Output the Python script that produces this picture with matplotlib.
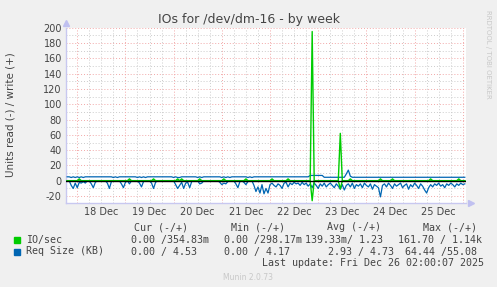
import matplotlib
matplotlib.use("Agg")
import matplotlib.pyplot as plt
from matplotlib.patches import Rectangle
import numpy as np

# =====================================================
# data (hourly samples, hour 0 = 18 Dec 00:00)
# =====================================================
first_hour = -5

# Req Size (KB), read side (drawn negative)
req_read = [
    0, 0, 6, 10, 3, 9, 2, 3, 1, 3,
    0, 0, 4, 9, 2, 0, 0, 0, 0, 0,
    3, 10, 1, 0, 0, 0, 0, 4, 9, 2,
    0, 4, 0, 0, 0, 0, 3, 8, 1, 0,
    0, 0, 3, 10, 2, 0, 0, 0, 0, 0,
    0, 0, 0, 0, 5, 10, 6, 2, 10, 3,
    2, 9, 1, 0, 0, 0, 4, 3, 0, 0,
    0, 0, 0, 0, 0, 0, 2, 5, 3, 4,
    1, 0, 0, 0, 4, 9, 1, 0, 2, 5,
    1, 0, 0, 6, 14, 8, 16, 5, 17, 10,
    16, 5, 3, 6, 8, 4, 6, 10, 3, 2,
    8, 3, 5, 2, 4, 3, 6, 2, 5, 3,
    7, 4, 9, 3, 6, 10, 4, 7, 3, 8,
    5, 3, 6, 9, 4, 7, 11, 5, 12, 6,
    4, 8, 3, 10, 5, 7, 4, 9, 3, 6,
    8, 4, 11, 5, 7, 9, 21, 6, 4, 8,
    3, 6, 10, 4, 7, 5, 3, 9, 6, 4,
    11, 5, 8, 3, 6, 10, 4, 7, 12, 16,
    9, 5, 8, 4, 6, 3, 7, 5, 9, 4,
    6, 3, 5, 8, 4, 6, 3, 5, 4,
]

# Req Size (KB), write side
req_write = [
    5.2, 5.2, 4.3, 5.2, 4.3, 5.2, 4.3, 5.2, 4.3, 5.2,
    5.2, 5.2, 5.2, 5.2, 5.2, 5.2, 5.2, 5.2, 5.2, 5.2,
    5.2, 5.2, 5.2, 4.3, 5.2, 4.3, 5.2, 5.2, 5.2, 5.2,
    5.2, 5.2, 5.2, 5.2, 5.2, 4.3, 5.2, 4.3, 5.2, 4.3,
    5.2, 5.2, 5.2, 5.2, 5.2, 5.2, 5.2, 5.2, 5.2, 5.2,
    5.2, 5.2, 5.2, 4.3, 5.2, 4.3, 4.3, 5.2, 5.2, 5.2,
    5.2, 5.2, 5.2, 5.2, 5.2, 4.3, 5.2, 4.3, 5.2, 5.2,
    5.2, 5.2, 5.2, 5.2, 5.2, 5.2, 5.2, 4.3, 5.2, 4.3,
    5.2, 4.3, 5.2, 5.2, 5.2, 5.2, 5.2, 5.2, 5.2, 5.2,
    4.3, 5.2, 4.3, 5.2, 5.2, 5.2, 5.2, 5.2, 5.2, 5.2,
    5.2, 5.2, 5.2, 5.2, 5.2, 5.2, 5.2, 5.2, 5.2, 5.2,
    5.2, 5.2, 5.2, 5.2, 5.2, 5.2, 5.2, 5.2, 5.2, 5.2,
    5.2, 7.0, 7.0, 7.0, 7.0, 7.0, 7.0, 7.0, 4.6, 4.6,
    4.6, 4.7, 4.6, 4.5, 4.6, 4.6, 4.7, 4.6, 4.6, 9.0,
    14.0, 6.0, 4.6, 4.6, 4.7, 4.6, 4.5, 4.6, 4.6, 4.6,
    4.7, 4.6, 4.6, 4.5, 4.6, 4.6, 4.7, 4.6, 4.6, 4.6,
    4.6, 4.5, 4.6, 4.7, 4.6, 4.6, 4.6, 4.5, 4.6, 4.6,
    4.7, 4.6, 4.6, 4.6, 4.5, 4.6, 4.6, 4.7, 4.6, 4.6,
    4.6, 4.6, 4.5, 4.6, 4.6, 4.7, 4.6, 4.6, 4.6, 4.5,
    4.6, 4.6, 4.7, 4.6, 4.6, 4.6, 4.5, 4.6, 4.6,
]

# IO/sec, read side (drawn negative)
io_read = [
    0, 0, 0, 0, 0, 0, 0, 0, 0, 0,
    0, 0, 0, 0, 0, 0, 0, 0, 0, 0,
    0, 0, 0, 0, 0, 0, 0, 0, 0, 0,
    0, 0, 0, 0, 0, 0, 0, 0, 0, 0,
    0, 0, 0, 0, 0, 0, 0, 0, 0, 0,
    0, 0, 0, 0, 0, 0, 0, 0, 0, 0,
    0, 0, 0, 0, 0, 0, 0, 0, 0, 0,
    0, 0, 0, 0, 0, 0, 0, 0, 0, 0,
    0, 0, 0, 0, 0, 0, 0, 0, 0, 0,
    0, 0, 0, 0, 0, 0, 0, 0, 0, 0,
    0, 0, 0, 0, 0, 0, 0, 0, 0, 0,
    0, 0, 0, 0, 0, 0, 0, 0, 0, 0,
    0, 0, 26, 0, 0, 0, 0, 0, 0, 0,
    0, 0, 0, 0, 0, 0, 10.5, 0, 0, 0,
    0, 0, 0, 0, 0, 0, 0, 0, 0, 0,
    0, 0, 0, 0, 0, 0, 0, 0, 0, 0,
    0, 0, 0, 0, 0, 0, 0, 0, 0, 0,
    0, 0, 0, 0, 0, 0, 0, 0, 0, 0,
    0, 0, 0, 0, 0, 0, 0, 0, 0, 0,
    0, 0, 0, 0, 0, 0, 0, 0, 0,
]

# IO/sec, write side
io_write = [
    0.2, 0.2, 0.2, 0.2, 0.2, 0.2, 2.5, 0.2, 0.2, 0.2,
    0.2, 0.2, 0.2, 0.2, 0.2, 0.2, 0.2, 0.2, 0.2, 0.2,
    0.2, 0.2, 0.2, 0.2, 0.2, 0.2, 0.2, 0.2, 0.2, 0.2,
    0.2, 2.5, 0.2, 0.2, 0.2, 0.2, 0.2, 0.2, 0.2, 0.2,
    0.2, 0.2, 0.2, 2.5, 0.2, 0.2, 0.2, 0.2, 0.2, 0.2,
    0.2, 0.2, 0.2, 0.2, 0.2, 2.5, 0.2, 2.5, 0.2, 0.2,
    0.2, 0.2, 0.2, 0.2, 0.2, 0.2, 2.5, 0.2, 0.2, 0.2,
    0.2, 0.2, 0.2, 0.2, 0.2, 0.2, 0.2, 0.2, 2.5, 0.2,
    0.2, 0.2, 0.2, 0.2, 0.2, 0.2, 0.2, 0.2, 0.2, 2.5,
    0.2, 0.2, 0.2, 0.2, 0.2, 0.2, 0.2, 0.2, 0.2, 0.2,
    0.2, 0.2, 2.5, 0.2, 0.2, 0.2, 0.2, 0.2, 0.2, 0.2,
    2.5, 0.2, 0.2, 0.2, 0.2, 0.2, 0.2, 0.2, 0.2, 0.2,
    0.2, 0.2, 195, 0.2, 0.2, 0.2, 0.2, 0.2, 0.2, 0.2,
    0.2, 0.2, 0.2, 0.2, 0.2, 0.2, 62, 0.2, 0.2, 0.2,
    0.2, 2.5, 0.2, 0.2, 0.2, 0.2, 0.2, 0.2, 0.2, 0.2,
    0.2, 0.2, 0.2, 0.2, 0.2, 0.2, 2.5, 0.2, 0.2, 0.2,
    0.2, 0.2, 2.5, 0.2, 0.2, 0.2, 0.2, 0.2, 0.2, 0.2,
    0.2, 0.2, 0.2, 0.2, 0.2, 0.2, 0.2, 0.2, 0.2, 0.2,
    0.2, 2.5, 0.2, 0.2, 0.2, 0.2, 0.2, 0.2, 0.2, 0.2,
    0.2, 0.2, 0.2, 0.2, 0.2, 2.5, 0.2, 0.2, 0.2,
]

day_labels = ["18 Dec", "19 Dec", "20 Dec", "21 Dec", "22 Dec", "23 Dec", "24 Dec", "25 Dec"]
y_ticks = [-20, 0, 20, 40, 60, 80, 100, 120, 140, 160, 180, 200]

legend_header = ["Cur (-/+)", "Min (-/+)", "Avg (-/+)", "Max (-/+)"]
io_stats = ["0.00 /354.83m", "0.00 /298.17m", "139.33m/ 1.23", "161.70 / 1.14k"]
req_stats = ["0.00 / 4.53", "0.00 / 4.17", "2.93 / 4.73", "64.44 /55.08"]
last_update = "Last update: Fri Dec 26 02:00:07 2025"

# =====================================================
# figure
# =====================================================
W, H = 497, 287
GREEN = "#00cc00"
BLUE = "#0066b3"
TXT = "#444444"

fig = plt.figure(figsize=(W / 100, H / 100), dpi=100)
fig.patch.set_facecolor("#f0f0f0")

top_px, bot_px, left_px, right_px = 27.7, 203, 66, 466
ax = fig.add_axes([left_px / W, 1 - bot_px / H, (right_px - left_px) / W, (bot_px - top_px) / H])
ax.set_facecolor("white")

hours = np.arange(first_hour, first_hour + len(req_read))
x_min, x_max = -5.6, 193.6
y_min, y_max = -29, 200

# grid: red on the labelled lines / midnights, grey in between
for yv in range(-20, 201, 10):
    col = "#f2a8a8" if yv % 20 == 0 else "#cccccc"
    ax.axhline(yv, color=col, lw=0.7, ls=(0, (1, 2)), zorder=1)
for hv in range(0, 194, 6):
    col = "#f2a8a8" if hv % 24 == 0 else "#cccccc"
    ax.axvline(hv, color=col, lw=0.7, ls=(0, (1, 2)), zorder=1)

# series
ax.plot(hours, -np.array(req_read), color=BLUE, lw=0.9, zorder=3)
ax.plot(hours, req_write, color=BLUE, lw=0.9, zorder=3)
ax.plot(hours, -np.array(io_read), color=GREEN, lw=1.0, zorder=4)
ax.plot(hours, io_write, color=GREEN, lw=1.0, zorder=4)
ax.axhline(0, color="black", lw=1.0, zorder=5)

ax.set_xlim(x_min, x_max)
ax.set_ylim(y_min, y_max)

ax.set_yticks(y_ticks)
ax.set_yticklabels([str(v) for v in y_ticks])
ax.set_xticks([12 + 24 * i for i in range(len(day_labels))])
ax.set_xticklabels(day_labels)
ax.tick_params(axis="both", labelsize=7, colors=TXT, length=0, pad=3)

for side in ["top", "right"]:
    ax.spines[side].set_visible(False)
for side in ["left", "bottom"]:
    ax.spines[side].set_color("#c8c8f0")
    ax.spines[side].set_linewidth(1)

# axis arrows
ax.plot([0], [1.025], marker="^", ms=4, color="#c0c0f0", transform=ax.transAxes, clip_on=False)
ax.plot([1.012], [0], marker=">", ms=4, color="#c0c0f0", transform=ax.transAxes, clip_on=False)


def ftxt(x, y, s, **kw):
    kw.setdefault("va", "center")
    fig.text(x / W, 1 - y / H, s, **kw)


ftxt(248.5, 19, "IOs for /dev/dm-16 - by week", ha="center", fontsize=9, color=TXT)
ftxt(11, 115, "Units read (-) / write (+)", ha="center", rotation=90, fontsize=7.5, color=TXT)
ftxt(488, 54, "RRDTOOL / TOBI OETIKER", ha="center", rotation=270, fontsize=5, color="#c8c8c8")
ftxt(248, 277, "Munin 2.0.73", ha="center", fontsize=5.5, color="#c8c8c8")

MONO = dict(family="DejaVu Sans Mono", fontsize=7.2, color=TXT, ha="left")

header_x = [134, 231, 327, 422.7]
for xh, s in zip(header_x, legend_header):
    ftxt(xh, 227, s, **MONO)

io_x = [131, 224, 305, 397.7]
for xs, s in zip(io_x, io_stats):
    ftxt(xs, 239.5, s, **MONO)

req_x = [131, 224, 327.7, 404.7]
for xs, s in zip(req_x, req_stats):
    ftxt(xs, 251.5, s, **MONO)

ftxt(26, 239.5, "IO/sec", **MONO)
ftxt(26, 251.5, "Req Size (KB)", **MONO)
ftxt(261.7, 263.5, last_update, **MONO)

fig.patches.append(Rectangle((14 / W, 1 - 242.5 / H), 6 / W, 6 / H, transform=fig.transFigure, color=GREEN))
fig.patches.append(Rectangle((14 / W, 1 - 254.5 / H), 6 / W, 6 / H, transform=fig.transFigure, color=BLUE))

fig.savefig("out.png", dpi=100, facecolor=fig.get_facecolor())
